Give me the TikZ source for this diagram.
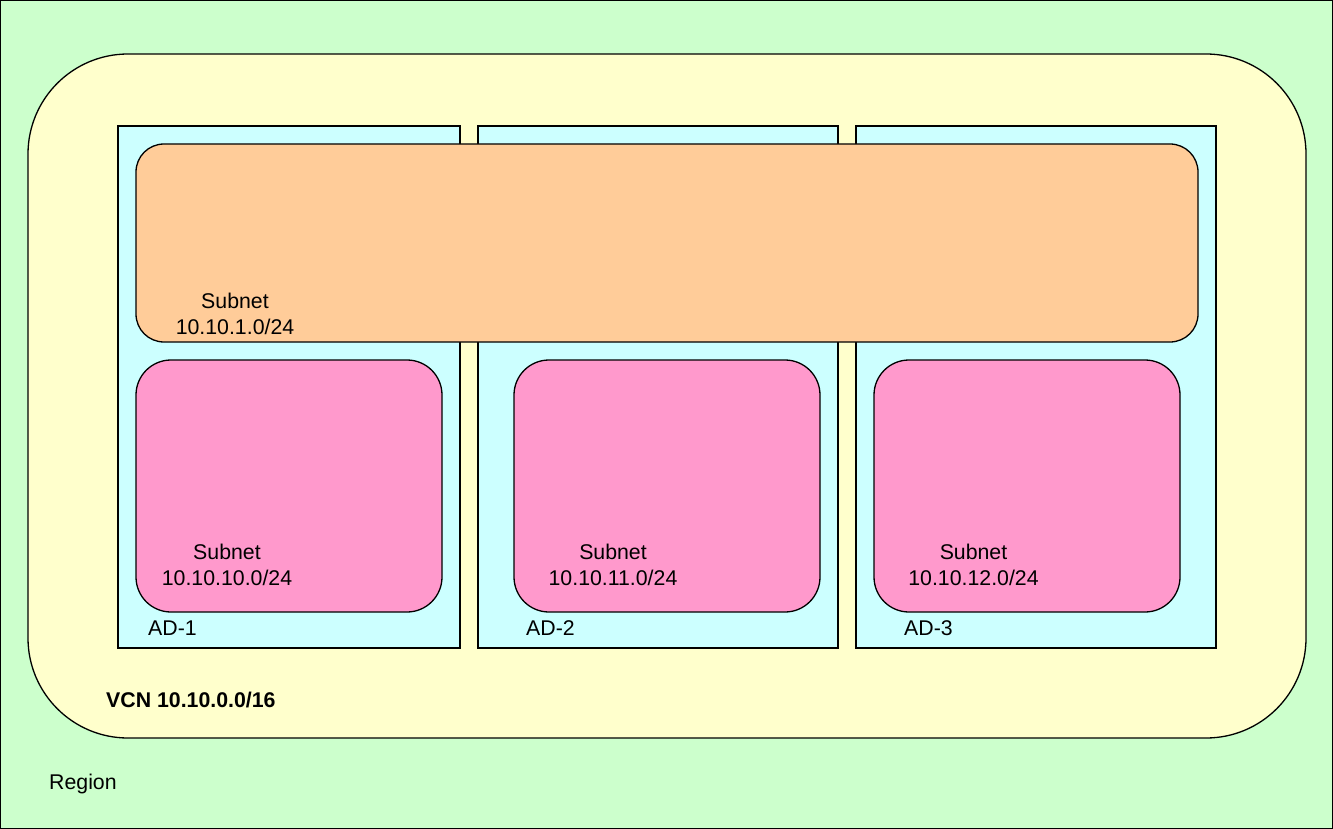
\documentclass[tikz,border=0pt]{standalone}
\usepackage{fontspec}
\setmainfont{Liberation Sans}
\definecolor{regiongreen}{HTML}{CCFFCC}
\definecolor{vcnyellow}{HTML}{FFFFCC}
\definecolor{adcyan}{HTML}{CCFFFF}
\definecolor{suborange}{HTML}{FFCC99}
\definecolor{subpink}{HTML}{FF99CC}
\begin{document}
\begin{tikzpicture}[x=1pt,y=-1pt,
  box/.style={draw=black,line width=1.3pt},
  lbl/.style={font=\fontsize{21.3}{25.5}\selectfont,inner sep=0pt,align=center},
  lblleft/.style={font=\fontsize{21.3}{25.5}\selectfont,inner sep=0pt,anchor=base west}]
\useasboundingbox (0,0) rectangle (1333,829);
% Region
\path[box,line width=1pt,fill=regiongreen] (0.5,0.5) rectangle (1332.5,828.5);
\node[lblleft] (regionlbl) at (49,789) {Region};
% VCN
\path[box,fill=vcnyellow,rounded corners=100pt] (28,54) rectangle (1306,738);
\node[lblleft,font=\fontsize{21.3}{25.5}\selectfont\bfseries] (vcnlbl) at (106,707) {VCN 10.10.0.0/16};
% ADs
\path[box,fill=adcyan] (118,126) rectangle (460,648);
\path[box,fill=adcyan] (478,126) rectangle (838,648);
\path[box,fill=adcyan] (856,126) rectangle (1216,648);
\node[lblleft] (ad1) at (148,635) {AD-1};
\node[lblleft] (ad2) at (526,635) {AD-2};
\node[lblleft] (ad3) at (904,635) {AD-3};
% Orange subnet
\path[box,fill=suborange,rounded corners=28pt] (136,144) rectangle (1198,342);
\node[lbl] (sub1) at (235,314) {Subnet\\10.10.1.0/24};
% Pink subnets
\path[box,fill=subpink,rounded corners=35pt] (136,360) rectangle (442,612);
\path[box,fill=subpink,rounded corners=35pt] (514,360) rectangle (820,612);
\path[box,fill=subpink,rounded corners=35pt] (874,360) rectangle (1180,612);
\node[lbl] (sub10) at (227,565) {Subnet\\10.10.10.0/24};
\node[lbl] (sub11) at (613,565) {Subnet\\10.10.11.0/24};
\node[lbl] (sub12) at (973.5,565) {Subnet\\10.10.12.0/24};
\end{tikzpicture}
\end{document}
